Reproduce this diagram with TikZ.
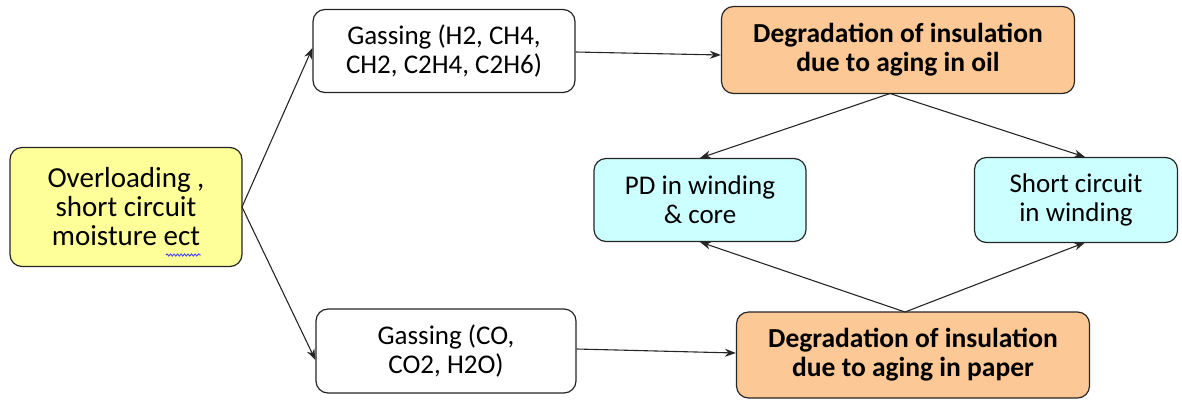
\documentclass[tikz,border=0pt]{standalone}
\usepackage{fontspec}
\setmainfont{Carlito}
\usetikzlibrary{arrows.meta,decorations.pathmorphing}
\definecolor{causefill}{HTML}{FFFF99}
\definecolor{degfill}{HTML}{FBC896}
\definecolor{faultfill}{HTML}{CCFFFF}
\tikzset{
  box/.style={draw=black!85, line width=1.2pt, rounded corners=12pt, align=center,
    font=\fontsize{27}{29}\selectfont, inner sep=0pt},
  degbox/.style={box, fill=degfill, font=\fontsize{27.5}{29}\selectfont\bfseries},
  link/.style={draw=black!85, line width=1.1pt, -{Stealth[length=11pt,width=8pt]}}
}
\begin{document}
\begin{tikzpicture}[x=1pt,y=-1pt]
\useasboundingbox (0,0) rectangle (1182,400);
\node[box, fill=causefill, minimum width=232pt, minimum height=119pt,
  font=\fontsize{29}{29}\selectfont] (cause) at (126,207)
  {Overloading ,\\short circuit\\moisture ect};
\node[box, fill=white, minimum width=262pt, minimum height=83pt] (gasoil) at (444,51)
  {Gassing (H2, CH4,\\CH2, C2H4, C2H6)};
\node[box, fill=white, minimum width=260pt, minimum height=84pt] (gaspaper) at (446,351)
  {Gassing (CO,\\CO2, H2O)};
\node[degbox, minimum width=353pt, minimum height=87pt] (degoil) at (898,50)
  {Degradation of insulation\\due to aging in oil};
\node[degbox, minimum width=353pt, minimum height=86pt] (degpaper) at (913,355)
  {Degradation of insulation\\due to aging in paper};
\node[box, fill=faultfill, minimum width=212pt, minimum height=83pt] (pd) at (700,200)
  {PD in winding\\\& core};
\node[box, fill=faultfill, minimum width=203pt, minimum height=85pt] (sc) at (1076,200)
  {Short circuit\\in winding};
% spell-check squiggle under "ect"
\draw[blue!80, line width=0.8pt, decorate, decoration={snake, amplitude=1.1pt, segment length=3.5pt}]
  (166,255) -- (201,255);
% connectors
\coordinate (c1) at (242,207);
\draw[link] (c1) -- (gasoil.west |- 0,48);
\draw[link] (c1) -- (gaspaper.west |- 0,360);
\draw[link] (gasoil.east |- 0,52) -- (degoil.west |- 0,55);
\draw[link] (gaspaper.east |- 0,349) -- (degpaper.west |- 0,353);
\coordinate (d1) at (890,93.5);
\draw[link] (d1) -- (pd.north |- 0,158);
\draw[link] (d1) -- (1085,157);
\coordinate (d2) at (905,312);
\draw[link] (d2) -- (pd.south |- 0,242);
\draw[link] (d2) -- (1085,242.5);
\end{tikzpicture}
\end{document}
